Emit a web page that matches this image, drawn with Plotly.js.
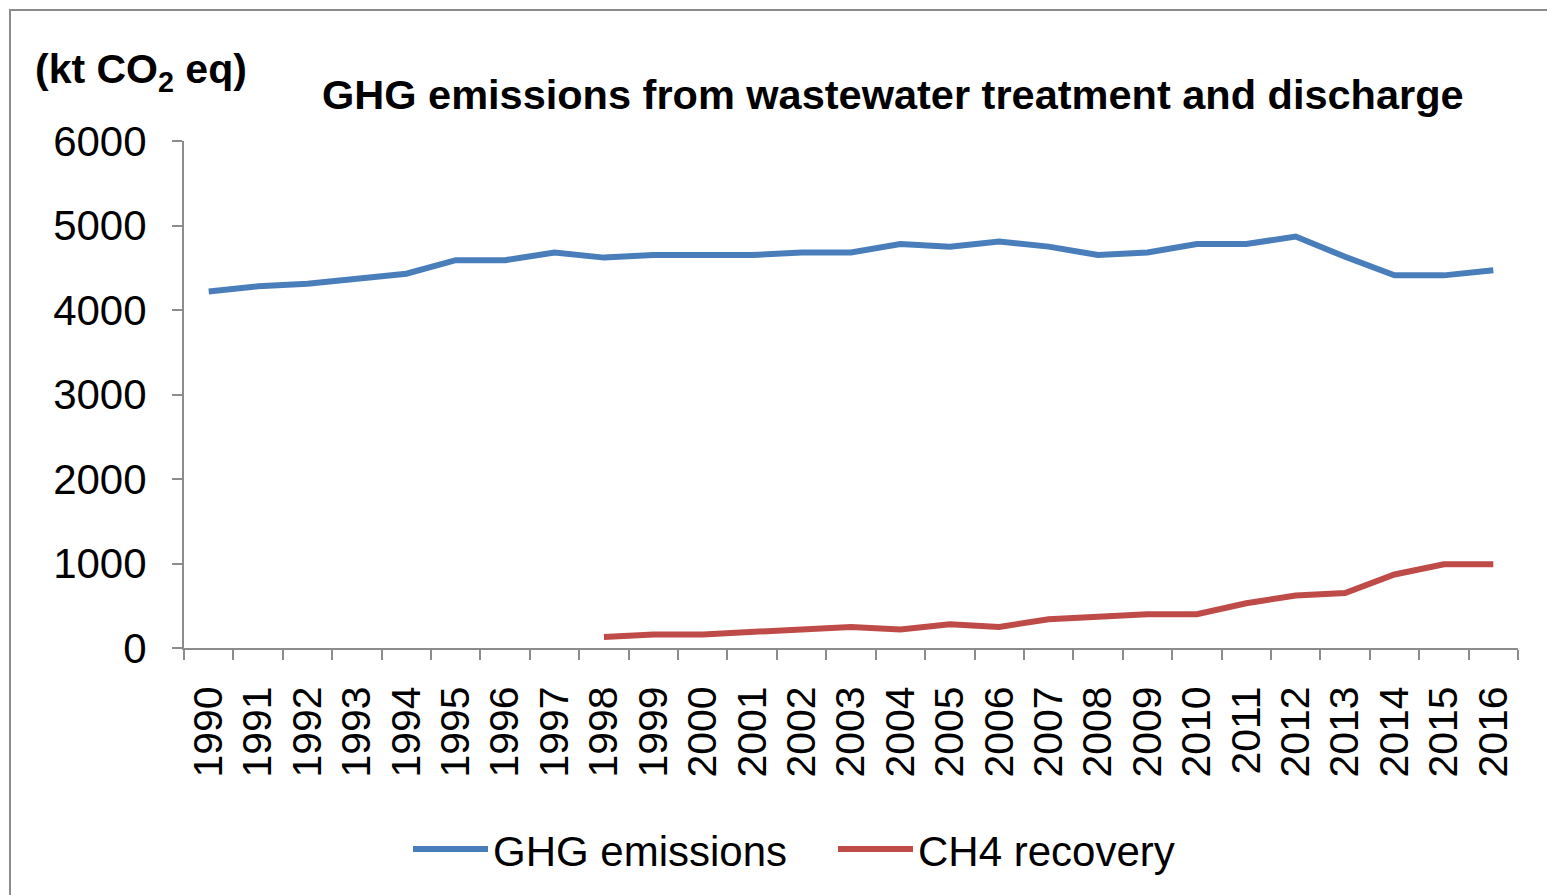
<!DOCTYPE html>
<html>
<head>
<meta charset="utf-8">
<script src="https://cdn.plot.ly/plotly-3.0.1.min.js"></script>
<style>
  html, body { margin: 0; padding: 0; background: #fff; }
  #chart { width: 1547px; height: 895px; }
  #frame { position: absolute; left: 9px; top: 9px; width: 1600px; height: 1000px;
           border: 2px solid #8c8c8c; pointer-events: none; }
</style>
</head>
<body>
<div id="chart"></div>
<div id="frame"></div>
<script>
const years = ["1990","1991","1992","1993","1994","1995","1996","1997","1998","1999","2000","2001","2002","2003","2004","2005","2006","2007","2008","2009","2010","2011","2012","2013","2014","2015","2016"];
const ghgEmissions = [4220,4280,4310,4370,4430,4590,4590,4680,4620,4650,4650,4650,4680,4680,4780,4750,4810,4750,4650,4680,4780,4780,4870,4630,4410,4410,4470];
const ch4Recovery = [null,null,null,null,null,null,null,null,130,160,160,190,220,250,220,280,250,340,370,400,400,530,620,650,870,990,990];

const FONT = "Liberation Sans, Arial, sans-serif";

const traces = [
  { x: years, y: ghgEmissions, name: "GHG emissions", type: "scatter", mode: "lines",
    line: { color: "#4A7EBB", width: 6 }, connectgaps: false },
  { x: years, y: ch4Recovery, name: "CH4 recovery", type: "scatter", mode: "lines",
    line: { color: "#BE4B48", width: 6 }, connectgaps: false }
];

const layout = {
  width: 1547, height: 895,
  margin: { l: 184, r: 29, t: 141, b: 244 },
  paper_bgcolor: "#fff", plot_bgcolor: "#fff",
  font: { family: FONT, color: "#000", size: 42 },
  showlegend: true,
  legend: { orientation: "h", x: (408 - 184) / 1334, xanchor: "left", y: -0.33, yanchor: "top",
            font: { size: 42, family: FONT }, itemwidth: 75, entrywidth: 335, tracegroupgap: 0 },
  xaxis: {
    type: "category", range: [-0.5, 26.5], tickangle: -90, tickson: "boundaries",
    tickmode: "array", tickvals: years, ticktext: years,
    ticks: "outside", ticklen: 10, tickwidth: 2, tickcolor: "#8c8c8c",
    showline: true, linecolor: "#8c8c8c", linewidth: 2, ticklabelstandoff: 20,
    showgrid: false, zeroline: false, fixedrange: true,
    tickfont: { size: 41, family: FONT }
  },
  yaxis: {
    range: [0, 6000], dtick: 1000, tick0: 0,
    ticks: "outside", ticklen: 10, tickwidth: 2, tickcolor: "#8c8c8c",
    showline: true, linecolor: "#8c8c8c", linewidth: 2, ticklabelstandoff: 17,
    showgrid: false, zeroline: false, fixedrange: true,
    tickfont: { size: 42, family: FONT }
  },
  annotations: [
    { text: "<b>GHG emissions from wastewater treatment and discharge</b>",
      xref: "paper", yref: "paper", x: (893 - 184) / 1334, y: (651 - 94) / 510,
      xanchor: "center", yanchor: "middle", showarrow: false,
      font: { size: 41.5, family: FONT } },
    { text: "<b>(kt CO<sub>2</sub> eq)</b>",
      xref: "paper", yref: "paper", x: (33 - 184) / 1334, y: (651 - 72) / 510,
      xanchor: "left", yanchor: "middle", showarrow: false,
      font: { size: 41, family: FONT } }
  ]
};

Plotly.newPlot("chart", traces, layout, { displayModeBar: false, staticPlot: true });
</script>
</body>
</html>
